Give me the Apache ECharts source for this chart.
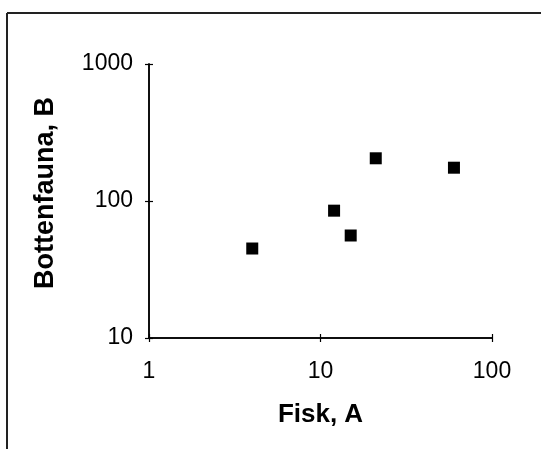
<!DOCTYPE html>
<html>
<head>
<meta charset="utf-8">
<script src="https://cdn.jsdelivr.net/npm/echarts@6/dist/echarts.min.js"></script>
<style>
html,body{margin:0;padding:0;background:#fff;}
#chart{width:541px;height:449px;}
</style>
</head>
<body>
<div id="chart"></div>
<script>
var fiskA = [4, 12, 15, 21, 60];
var bottenfaunaB = [45, 85, 56, 205, 175];
var xAxisTitle = 'Fisk, A';
var yAxisTitle = 'Bottenfauna, B';

var points = fiskA.map(function (x, i) { return [x, bottenfaunaB[i]]; });
var font = "'Liberation Sans', Arial, Helvetica, sans-serif";
var plain = function (v) { return String(v); };

var chart = echarts.init(document.getElementById('chart'), null, {renderer: 'canvas'});
var baseX = {
  type: 'log', logBase: 10, min: 1, max: 100,
  splitLine: {show: false}, minorTick: {show: false},
  axisLine: {show: true, lineStyle: {color: '#000', width: 1.5}}
};
var baseY = {
  type: 'log', logBase: 10, min: 10, max: 1000,
  splitLine: {show: false}, minorTick: {show: false},
  axisLine: {show: true, lineStyle: {color: '#000', width: 1.5}}
};
chart.setOption({
  animation: false,
  backgroundColor: '#fff',
  grid: {left: 149, right: 49, top: 64, bottom: 111},
  xAxis: [
    Object.assign({}, baseX, {
      position: 'bottom',
      axisTick: {show: true, length: 4, lineStyle: {color: '#000', width: 1.2}},
      axisLabel: {color: '#000', fontSize: 23, fontFamily: font, margin: 22, formatter: plain},
      name: xAxisTitle, nameLocation: 'middle', nameGap: 64,
      nameTextStyle: {color: '#000', fontSize: 26, fontWeight: 'bold', fontFamily: font}
    }),
    Object.assign({}, baseX, {
      position: 'bottom',
      axisTick: {show: true, inside: true, length: 4, lineStyle: {color: '#000', width: 1.2}},
      axisLabel: {show: false}
    })
  ],
  yAxis: [
    Object.assign({}, baseY, {
      position: 'left',
      axisTick: {show: true, length: 4, lineStyle: {color: '#000', width: 1.2}},
      axisLabel: {color: '#000', fontSize: 23, fontFamily: font, margin: 16, formatter: plain},
      name: yAxisTitle, nameLocation: 'middle', nameGap: 90, nameRotate: 90,
      nameTextStyle: {color: '#000', fontSize: 27, fontWeight: 'bold', fontFamily: font, padding: [0, 0, 0, 16]}
    }),
    Object.assign({}, baseY, {
      position: 'left',
      axisTick: {show: true, inside: true, length: 4, lineStyle: {color: '#000', width: 1.2}},
      axisLabel: {show: false}
    })
  ],
  graphic: [
    {type: 'line', shape: {x1: 7, y1: 13, x2: 541, y2: 13}, style: {stroke: '#222', lineWidth: 2}},
    {type: 'line', shape: {x1: 7, y1: 13, x2: 7, y2: 449}, style: {stroke: '#222', lineWidth: 2}}
  ],
  series: [{
    type: 'scatter',
    xAxisIndex: 0, yAxisIndex: 0,
    data: points,
    symbol: 'rect',
    symbolSize: 12,
    itemStyle: {color: '#000', opacity: 1}
  }]
});
</script>
</body>
</html>
